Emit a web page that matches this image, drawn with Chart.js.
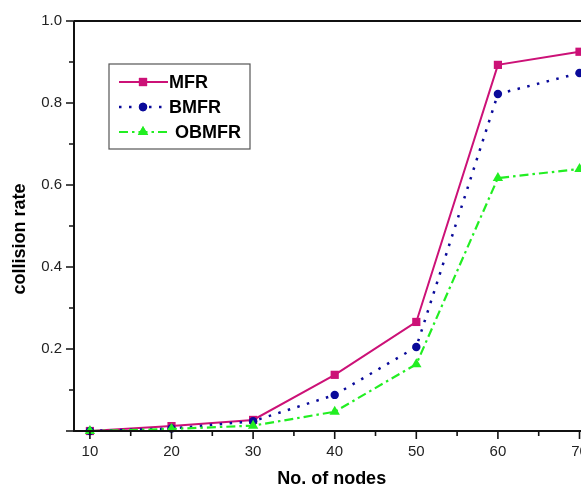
<!DOCTYPE html>
<html>
<head>
<meta charset="utf-8">
<script src="https://cdn.jsdelivr.net/npm/chart.js@4/dist/chart.umd.min.js"></script>
<style>
  html, body { margin: 0; padding: 0; background: #fff; overflow: hidden; }
  #wrap { width: 581px; height: 494px; overflow: hidden; }
</style>
</head>
<body>
<div id="wrap"><canvas id="chart" width="600" height="494"></canvas></div>
<script>
// collision rate vs number of nodes for the three forwarding schemes
const nodes = [10, 20, 30, 40, 50, 60, 70];
const mfr   = [0.0, 0.012, 0.027, 0.137, 0.266, 0.893, 0.925];
const bmfr  = [0.0, 0.006, 0.024, 0.088, 0.205, 0.822, 0.873];
const obmfr = [0.0, 0.005, 0.013, 0.047, 0.163, 0.617, 0.639];

const xMajor = [10, 20, 30, 40, 50, 60, 70];
const xMinor = [15, 25, 35, 45, 55, 65];
const yMajor = [0.2, 0.4, 0.6, 0.8, 1.0];
const yMinor = [0.1, 0.3, 0.5, 0.7, 0.9];

const FONT = '"Liberation Sans", Arial, sans-serif';

const series = [
  { label: 'MFR',   data: mfr,   color: '#cc1177', dash: [],            width: 2,   style: 'rect',     radius: 5.8, order: 3 },
  { label: 'BMFR',  data: bmfr,  color: '#0a0a9a', dash: [2.5, 7.5],    width: 2.5, style: 'circle',   radius: 4.2, order: 2 },
  { label: 'OBMFR', data: obmfr, color: '#22ee22', dash: [9, 4, 2.5, 4], width: 2.2, style: 'triangle', radius: 6,   order: 1 },
];

// axis frame, outward ticks (major + minor), top border line and y title
const framePlugin = {
  id: 'frame',
  afterDraw(chart) {
    const { ctx, chartArea: a, scales } = chart;
    const x = scales.x, y = scales.y;
    ctx.save();
    ctx.strokeStyle = '#111';
    ctx.lineWidth = 2;
    ctx.beginPath();
    ctx.moveTo(a.left, a.top); ctx.lineTo(a.right, a.top);
    ctx.moveTo(a.left, a.top); ctx.lineTo(a.left, a.bottom);
    ctx.moveTo(a.left - 1, a.bottom); ctx.lineTo(a.right, a.bottom);
    ctx.stroke();
    ctx.lineWidth = 1.6;
    ctx.beginPath();
    xMajor.forEach(v => { const px = x.getPixelForValue(v); ctx.moveTo(px, a.bottom); ctx.lineTo(px, a.bottom + 8); });
    xMinor.forEach(v => { const px = x.getPixelForValue(v); ctx.moveTo(px, a.bottom); ctx.lineTo(px, a.bottom + 5); });
    [0].concat(yMajor).forEach(v => { const py = y.getPixelForValue(v); ctx.moveTo(a.left, py); ctx.lineTo(a.left - 8, py); });
    yMinor.forEach(v => { const py = y.getPixelForValue(v); ctx.moveTo(a.left, py); ctx.lineTo(a.left - 5, py); });
    ctx.stroke();

    // y axis title, sits a little below the middle of the axis
    ctx.translate(20, 239);
    ctx.rotate(-Math.PI / 2);
    ctx.fillStyle = '#000';
    ctx.font = 'bold 18px ' + FONT;
    ctx.textAlign = 'center';
    ctx.textBaseline = 'middle';
    ctx.fillText('collision rate', 0, 0);
    ctx.restore();
  }
};

// boxed legend inside the plot area
const legendBox = {
  id: 'legendBox',
  afterDraw(chart) {
    const ctx = chart.ctx;
    const bx = 109, by = 64, bw = 141, bh = 85;
    ctx.save();
    ctx.strokeStyle = '#555';
    ctx.lineWidth = 1.2;
    ctx.strokeRect(bx, by, bw, bh);
    series.forEach((s, i) => {
      const cy = 82 + i * 25;
      ctx.strokeStyle = s.color;
      ctx.lineWidth = s.width;
      ctx.setLineDash(s.dash);
      ctx.beginPath();
      ctx.moveTo(119, cy); ctx.lineTo(168, cy);
      ctx.stroke();
      ctx.setLineDash([]);
      ctx.fillStyle = s.color;
      Chart.helpers.drawPoint(ctx, { pointStyle: s.style, radius: s.radius, borderWidth: 0 }, 143, cy);
      ctx.fill();
      ctx.fillStyle = '#000';
      ctx.font = 'bold 18px ' + FONT;
      ctx.textBaseline = 'middle';
      ctx.fillText(s.label, i === 2 ? 175 : 169, cy + 1);
    });
    ctx.restore();
  }
};

new Chart(document.getElementById('chart'), {
  type: 'line',
  data: {
    labels: nodes,
    datasets: series.map(s => ({
      label: s.label,
      data: nodes.map((n, i) => ({ x: n, y: s.data[i] })),
      borderColor: s.color,
      backgroundColor: s.color,
      borderWidth: s.width,
      borderDash: s.dash,
      pointStyle: s.style,
      pointRadius: s.radius,
      pointBorderWidth: 0,
      tension: 0,
      order: s.order,
      clip: false,
    }))
  },
  options: {
    responsive: false,
    animation: false,
    events: [],
    layout: { padding: { top: 20, right: 8, left: 0, bottom: 0 } },
    plugins: { legend: { display: false }, tooltip: { enabled: false } },
    scales: {
      x: {
        type: 'linear',
        min: 8.05,
        max: 71.2,
        afterBuildTicks: s => { s.ticks = xMajor.map(v => ({ value: v })); },
        afterFit: s => { s.height = 63; },
        grid: { display: false, drawTicks: false },
        border: { display: false },
        ticks: { color: '#222', font: { family: FONT, size: 15 }, padding: 12, maxRotation: 0, autoSkip: false },
        title: { display: true, text: 'No. of nodes', color: '#000', font: { family: FONT, size: 18, weight: 'bold' }, padding: { top: 16 } }
      },
      y: {
        min: 0,
        max: 1.0,
        afterBuildTicks: s => { s.ticks = yMajor.map(v => ({ value: v })); },
        afterFit: s => { s.width = 74; },
        grid: { display: false, drawTicks: false },
        border: { display: false },
        ticks: { color: '#222', font: { family: FONT, size: 15 }, padding: 12, callback: v => v.toFixed(1) },
        title: { display: false }
      }
    }
  },
  plugins: [framePlugin, legendBox]
});
</script>
</body>
</html>
